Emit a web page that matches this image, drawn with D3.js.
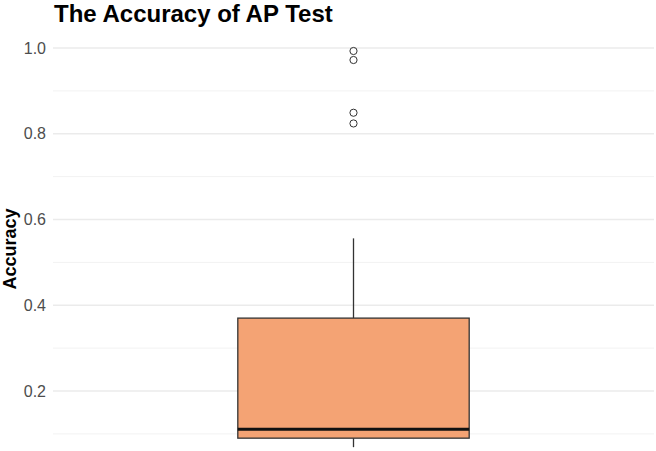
<!DOCTYPE html>
<html>
<head>
<meta charset="utf-8">
<script src="https://cdn.jsdelivr.net/npm/d3@7"></script>
<style>
  body { margin: 0; background: #fff; }
  svg { font-family: "Liberation Sans", Arial, sans-serif; }
</style>
</head>
<body>
<div id="chart"></div>
<script>
// box summary
var boxStats = { lower: 0.069, q1: 0.090, median: 0.111, q3: 0.370, upper: 0.556 };
var outliers = [0.993, 0.972, 0.849, 0.824];
var majorTicks = [0.2, 0.4, 0.6, 0.8, 1.0];
var minorTicks = [0.1, 0.3, 0.5, 0.7, 0.9];

var width = 656, height = 451;
var left = 53, right = 654;

var svg = d3.select("#chart").append("svg")
    .attr("width", width)
    .attr("height", height);

// 1.0 -> 48px, 0.2 -> 391px
var y = d3.scaleLinear()
    .domain([0.2, 1.0])
    .range([391, 48]);

var x = d3.scaleBand()
    .domain(["AP"])
    .range([left, right])
    .paddingInner(0)
    .paddingOuter(0);

var grid = svg.append("g");
grid.selectAll(".minor")
    .data(minorTicks)
    .enter().append("line")
    .attr("x1", left).attr("x2", right)
    .attr("y1", d => y(d)).attr("y2", d => y(d))
    .attr("stroke", "#f2f2f2")
    .attr("stroke-width", 1);
grid.selectAll(".major")
    .data(majorTicks)
    .enter().append("line")
    .attr("x1", left).attr("x2", right)
    .attr("y1", d => y(d)).attr("y2", d => y(d))
    .attr("stroke", "#ebebeb")
    .attr("stroke-width", 1.5);

var axis = svg.append("g")
    .attr("transform", "translate(" + (left - 7) + ",0)")
    .call(d3.axisLeft(y).tickValues(majorTicks).tickFormat(d3.format(".1f")).tickSize(0).tickPadding(0));
axis.select(".domain").remove();
axis.selectAll("text")
    .attr("fill", "#4d4d4d")
    .attr("font-size", "16px")
    .attr("font-family", "Liberation Sans, Arial, sans-serif");

var cx = x("AP") + x.bandwidth() / 2;
var bw = x.bandwidth() * 0.385;

// whiskers
var box = svg.append("g");
box.append("line")
    .attr("x1", cx).attr("x2", cx)
    .attr("y1", y(boxStats.q3)).attr("y2", y(boxStats.upper))
    .attr("stroke", "#333").attr("stroke-width", 1.3);
box.append("line")
    .attr("x1", cx).attr("x2", cx)
    .attr("y1", y(boxStats.q1)).attr("y2", y(boxStats.lower))
    .attr("stroke", "#333").attr("stroke-width", 1.3);

box.append("rect")
    .attr("x", cx - bw / 2)
    .attr("width", bw)
    .attr("y", y(boxStats.q3))
    .attr("height", y(boxStats.q1) - y(boxStats.q3))
    .attr("fill", "#f4a374")
    .attr("stroke", "#333")
    .attr("stroke-width", 1.3);

box.append("line")
    .attr("x1", cx - bw / 2).attr("x2", cx + bw / 2)
    .attr("y1", y(boxStats.median)).attr("y2", y(boxStats.median))
    .attr("stroke", "#111").attr("stroke-width", 3);

box.selectAll(".outlier")
    .data(outliers)
    .enter().append("circle")
    .attr("cx", cx)
    .attr("cy", d => y(d))
    .attr("r", 3.6)
    .attr("fill", "none")
    .attr("stroke", "#333")
    .attr("stroke-width", 1);

svg.append("text")
    .attr("x", 54).attr("y", 22)
    .attr("font-size", "24px")
    .attr("font-weight", "bold")
    .attr("fill", "#000")
    .text("The Accuracy of AP Test");

svg.append("text")
    .attr("transform", "translate(16,249) rotate(-90)")
    .attr("text-anchor", "middle")
    .attr("font-size", "18px")
    .attr("font-weight", "bold")
    .attr("fill", "#000")
    .text("Accuracy");
</script>
</body>
</html>
